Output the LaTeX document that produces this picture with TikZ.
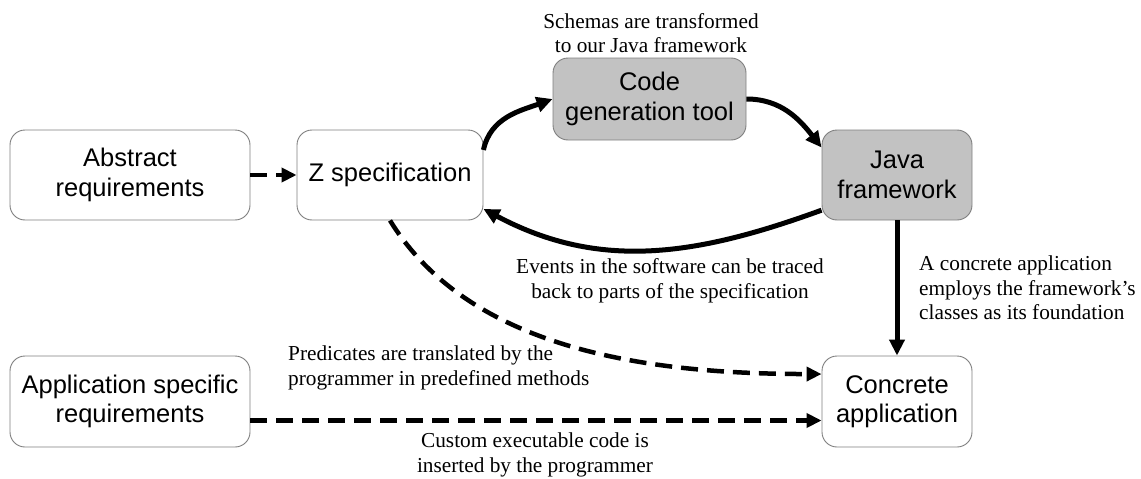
\documentclass[tikz,border=0pt]{standalone}
\usepackage{fontspec}
\setmainfont{Liberation Serif}
\setsansfont{Liberation Sans}
\usetikzlibrary{arrows.meta}
\definecolor{boxedge}{HTML}{7F7F7F}
\definecolor{toolfill}{HTML}{C2C2C2}
\begin{document}
\begin{tikzpicture}[x=1pt,y=-1pt,
  box/.style={draw=boxedge, line width=0.9pt, rounded corners=15pt, fill=white,
    align=center, inner sep=0pt, font=\sffamily\fontsize{25.5}{29.5}\selectfont},
  toolbox/.style={box, fill=toolfill},
  note/.style={inner sep=0pt, font=\fontsize{21.3}{24.5}\selectfont},
  link/.style={line width=5pt, -{Triangle[length=16pt,width=15pt]}},
  dlink/.style={line width=4.5pt, dash pattern=on 17pt off 9pt,
    -{Triangle[length=15pt,width=14pt]}}]
\useasboundingbox (0,0) rectangle (1141,479);

% boxes
\node[box, minimum width=240pt, minimum height=90pt] (abs) at (130,175) {Abstract\\requirements};
\node[box, minimum width=186pt, minimum height=90pt] (z) at (390,175) {Z specification};
\node[toolbox, minimum width=193pt, minimum height=82pt] (code) at (649.5,99) {Code\\generation tool};
\node[toolbox, minimum width=150pt, minimum height=90pt] (java) at (897,175) {Java\\framework};
\node[box, minimum width=150pt, minimum height=91pt] (conc) at (897,401.5) {Concrete\\application};
\node[box, minimum width=240pt, minimum height=91pt] (app) at (130,401.5) {Application specific\\requirements};

% labels
\node[note, align=center] (lschema) at (651,33) {Schemas are transformed\\to our Java framework};
\node[note, align=center] (ltrace) at (670,281) {Events in the software can be traced\\back to parts of the specification};
\node[note, align=left, anchor=west] (lfound) at (919,288) {A concrete application\\employs the framework’s\\classes as its foundation};
\node[note, align=left, anchor=west] (lpred) at (288,368) {Predicates are translated by the\\programmer in predefined methods};
\node[note, align=center] (lcustom) at (535,455) {Custom executable code is\\inserted by the programmer};

% connectors
\draw[dlink] (abs.east) -- (z.west);
\draw[link] (z.15) to[out=78, in=200] (code.west);
\draw[link] (code.east) to[out=0, in=128] (java.160);
\draw[link] (java.205) to[out=200, in=-28] (z.-20);
\draw[link] (java.south) -- (conc.north);
\draw[dlink] (z.south) .. controls +(80,130) and +(-172,0) .. (conc.160);
\draw[dlink] ([yshift=-19pt]app.east) -- ([yshift=-19pt]conc.west);
\end{tikzpicture}
\end{document}
